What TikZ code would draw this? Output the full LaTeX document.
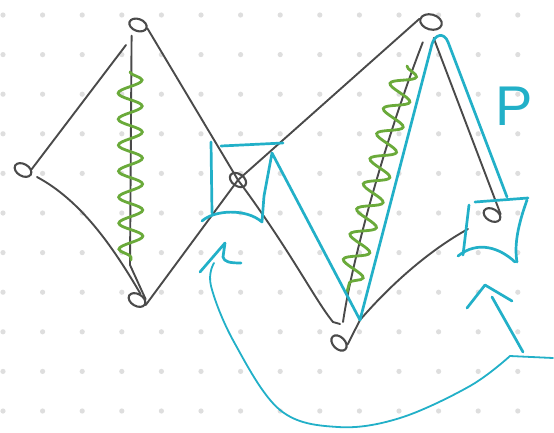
\documentclass[tikz,border=0pt]{standalone}
\usepackage{fontspec}
\setmainfont{Liberation Sans}
\usetikzlibrary{shapes.geometric,decorations.pathmorphing}
\definecolor{inkgray}{HTML}{4A4A4A}
\definecolor{inkcyan}{HTML}{22B0C8}
\definecolor{inkgreen}{HTML}{6AAA3A}
\definecolor{griddot}{HTML}{DEDEDE}
\tikzset{
  vert/.style={draw=inkgray, ellipse, line width=2.1pt, inner sep=0pt,
    minimum width=18pt, minimum height=12pt},
  edge/.style={draw=inkgray, line width=1.9pt, line cap=round, line join=round},
  wave/.style={draw=inkgreen, line width=2.8pt, line cap=round,
    decorate, decoration={snake, segment length=26pt, amplitude=12pt}},
  marker/.style={draw=inkcyan, line width=2.7pt, line cap=round, line join=round},
  thinmarker/.style={draw=inkcyan, line width=1.8pt, line cap=round, line join=round},
}
\begin{document}
\begin{tikzpicture}[x=1pt, y=-1pt]
  \useasboundingbox (0,0) rectangle (554,432);
  \fill[white] (0,0) rectangle (554,432);

  % dotted paper
  \foreach \i in {0,...,13}
    \foreach \j in {0,...,10}
      \fill[griddot] ({3+39.6*\i},{15+39.6*\j}) circle (2.6pt);

  % vertices
  \node[vert, rotate=-20] (lt) at (138,25) {};
  \node[vert, rotate=-30] (ll) at (23,170) {};
  \node[vert, rotate=-30] (lb) at (137,300) {};
  \node[vert, rotate=-35] (m)  at (238,180) {};
  \node[vert, rotate=-15, minimum width=22pt, minimum height=15pt] (rt) at (431,22) {};
  \node[vert, rotate=-30] (rr) at (492,215) {};
  \node[vert, rotate=-45] (rb) at (339,343) {};

  % left rhombus
  \draw[edge] (lt) ++(-12,20) -- (ll.north east);
  \draw[edge] (ll) ++(14,7) .. controls (80,200) and (112,245) .. (lb.north);
  \draw[edge] (lt.south) ++(-4,4) -- (130,265) -- (lb.north east);
  \draw[edge] (lt.east) -- (m.center) .. controls (290,250) and (315,300) .. (333,322) -- (340,324);
  \draw[edge] (lb.east) -- (m.center) -- (rt.west);

  % right triangle
  \draw[edge] (rt.south) ++(-6,12) .. controls (385,140) and (352,260) .. (343,322);
  \draw[edge] (rt.south east) ++(-4,8) -- (rr.north east);
  \draw[edge] (rb.north east) -- (360,320) .. controls (392,283) and (430,250) .. (468,229);

  % wavy lines along the two diagonals
  \draw[wave] (130,72) -- (131,260);
  \draw[wave] (407,66) -- (347,292);

  % box around the middle vertex and the path
  \draw[marker] (211,142) -- (212,213);
  \draw[marker] (221,146) -- (283,143);
  \draw[marker] (202,221) .. controls (214,210) and (246,208) .. (262,222)
    -- (264,196) -- (272,153) -- (360,320) -- (432,44)
    .. controls (435,34) and (444,32) .. (448,42) -- (507,197);

  % box around the right vertex
  \draw[marker] (475,202) -- (528,198);
  \draw[marker] (469,205) -- (463,255);
  \draw[marker] (458,256) .. controls (478,240) and (500,248) .. (515,262);
  \draw[marker] (527,200) .. controls (518,225) and (514,245) .. (517,262);

  % label
  \node[text=inkcyan, font=\fontsize{56}{56}\selectfont, inner sep=0pt] (lbl) at (514,106) {P};

  % arrows pointing at the two boxes
  \coordinate (fork) at (510,356);
  \draw[thinmarker] (553,358) -- (fork);
  \draw[thinmarker] plot[smooth, tension=0.6] coordinates
    {(fork) (470,386) (400,418) (338,427) (280,410) (234,342) (211,286) (214,263)};
  \draw[marker] (200,272) -- (225,243) -- (223,257) .. controls (224,262) and (230,263) .. (241,263);
  \draw[marker] (fork) ++(13,-4) -- (492,297);
  \draw[marker] (467,308) -- (485,285) -- (512,301);
\end{tikzpicture}
\end{document}
